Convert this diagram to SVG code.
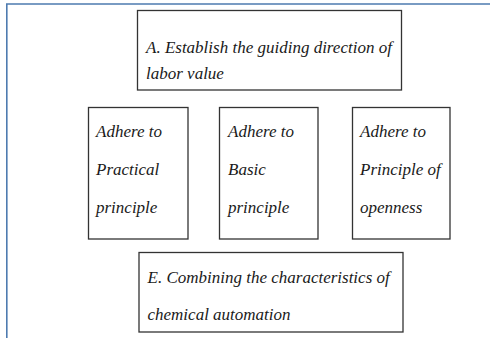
<svg xmlns="http://www.w3.org/2000/svg" width="496" height="338" viewBox="0 0 496 338">
<style>
.box{fill:#fff;stroke:#333;stroke-width:1.3}
.t{font-family:"Liberation Serif","Times New Roman","DejaVu Serif",serif;font-style:italic;font-size:17px;fill:#1a1a1a}
.frame{stroke:#4e7bb0;stroke-width:1.6;fill:none}
</style>
<rect width="496" height="338" fill="#fff"/>
<g id="frame">
<path class="frame" d="M6.8,338 V4 H490"/>
</g>
<g id="connectors"></g>
<g id="nodeA">
<rect class="box" x="137.5" y="10.5" width="264" height="79.5"/>
<text class="t" x="146" y="53">A. Establish the guiding direction of</text>
<text class="t" x="146" y="79">labor value</text>
</g>
<g id="nodeB">
<rect class="box" x="88.5" y="107.5" width="99.5" height="131.5"/>
<text class="t" x="96" y="136.5">Adhere to</text>
<text class="t" x="96" y="174.5">Practical</text>
<text class="t" x="96" y="212.5">principle</text>
</g>
<g id="nodeC">
<rect class="box" x="219.5" y="107.5" width="98.5" height="131.5"/>
<text class="t" x="228" y="136.5">Adhere to</text>
<text class="t" x="228" y="174.5">Basic</text>
<text class="t" x="228" y="212.5">principle</text>
</g>
<g id="nodeD">
<rect class="box" x="352.5" y="107.5" width="97.5" height="131.5"/>
<text class="t" x="360" y="136.5">Adhere to</text>
<text class="t" x="360" y="174.5">Principle of</text>
<text class="t" x="360" y="212.5">openness</text>
</g>
<g id="nodeE">
<rect class="box" x="139" y="252.5" width="264" height="79.5"/>
<text class="t" x="147.5" y="282.5">E. Combining the characteristics of</text>
<text class="t" x="147.5" y="320">chemical automation</text>
</g>
</svg>
